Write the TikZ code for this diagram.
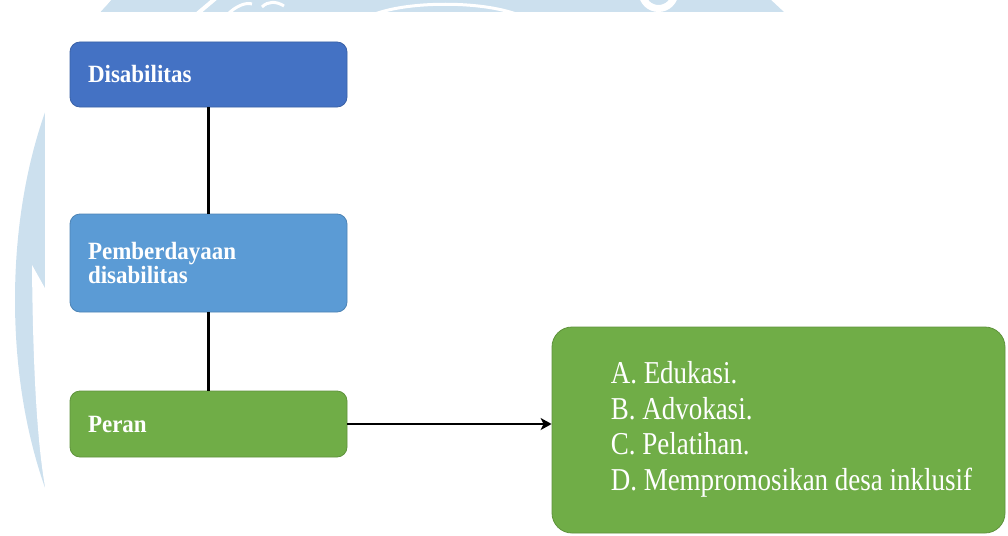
\documentclass[tikz,border=0pt]{standalone}
\usepackage{fontspec}
\setmainfont{Liberation Serif}
\usetikzlibrary{arrows.meta}
\definecolor{wmblue}{HTML}{CCE0EE}
\definecolor{boxA}{HTML}{4472C4}
\definecolor{boxB}{HTML}{5B9BD5}
\definecolor{boxC}{HTML}{70AD47}
\tikzset{
  flowbox/.style={rectangle, rounded corners=10pt, minimum width=277pt, text width=241pt,
    inner xsep=18pt, inner ysep=0pt, align=left, text=white, line width=0.8pt,
    font=\fontsize{23}{24}\selectfont\bfseries},
  disbox/.style={flowbox, fill=boxA, draw=boxA!85!black, minimum height=65pt},
  pembox/.style={flowbox, fill=boxB, draw=boxB!85!black, minimum height=98pt},
  perbox/.style={flowbox, fill=boxC, draw=boxC!85!black, minimum height=66pt},
  listbox/.style={rectangle, rounded corners=20pt, minimum width=453pt, minimum height=206pt,
    inner sep=0pt, fill=boxC, draw=boxC!85!black, line width=0.8pt, text=white,
    font=\fontsize{27}{30}\selectfont},
  link/.style={line width=2.5pt, black},
  arrowlink/.style={link, -{Stealth[length=11pt,width=12pt,inset=3pt]}}
}
\begin{document}
\begin{tikzpicture}[x=1pt,y=-1pt]
\useasboundingbox (0,0) rectangle (1008,535);
% watermark (background logo)
\begin{scope}
  \clip (0,0) rectangle (1008,535);
  \fill[wmblue] (190,300) ellipse [x radius=175pt, y radius=335pt];
  \fill[wmblue] (101,13) -- (112,-1) -- (770,-1) -- (785,13) -- cycle;
  \draw[white, line width=4pt] (197,14) -- (216,-2);
  \draw[white, line width=3pt] (228,14) .. controls (236,6) and (246,2) .. (252,4);
  \draw[white, line width=3pt] (262,7) .. controls (268,1) and (276,1) .. (284,6);
  \draw[white, line width=3pt] (375,14) .. controls (410,1) and (480,1) .. (516,14);
  \draw[white, line width=7pt] (658.5,-8) circle [radius=16.5pt];
  \fill[white] (46,290) -- (32,265) .. controls (33,380) and (38,450) .. (46,492) -- cycle;
  \fill[white] (45,12) rectangle (1010,537);
\end{scope}
% boxes
\node[disbox] (dis) at (208.5,74.5) {\scalebox{1}[1.08]{Disabilitas}};
\node[pembox] (pem) at (208.5,263) {\scalebox{1}[1.08]{Pemberdayaan}\\\scalebox{1}[1.08]{disabilitas}};
\node[perbox] (per) at (208.5,424) {\scalebox{1}[1.08]{Peran}};
\node[listbox] (roles) at (778.5,430) {\scalebox{1}[1.18]{\begin{tabular}{@{\hspace{26pt}}l@{}}A.\ Edukasi.\\B.\ Advokasi.\\C.\ Pelatihan.\\D.\ Mempromosikan desa inklusif\end{tabular}}};
% connectors
\draw[link] (dis.south) -- (pem.north);
\draw[link] (pem.south) -- (per.north);
\draw[arrowlink] (per.east) -- (per.east -| roles.west);
\end{tikzpicture}
\end{document}
